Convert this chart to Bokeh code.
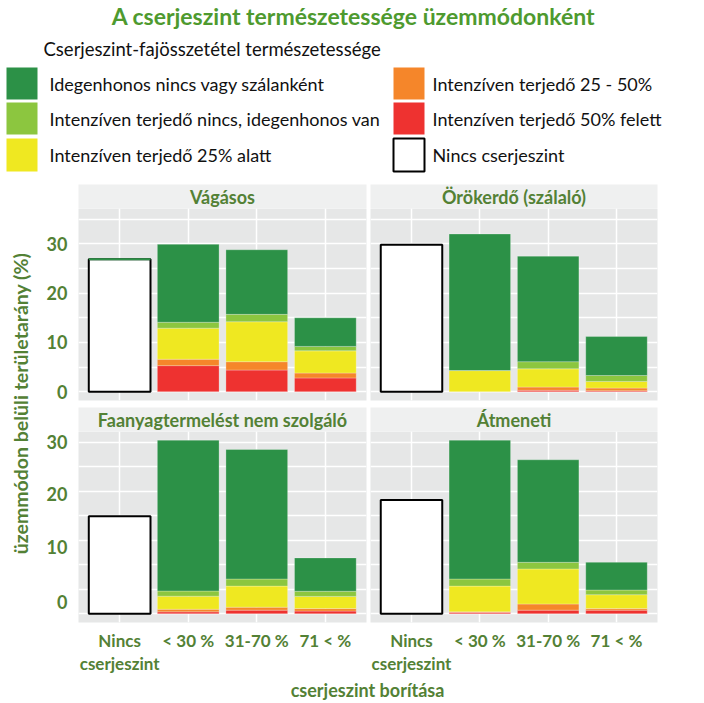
import math
from bokeh.plotting import figure
from bokeh.models import Range1d, FactorRange, FixedTicker, ColumnDataSource, Label, CustomJSTickFormatter
from bokeh.layouts import column, row
from bokeh.embed import file_html
from bokeh.resources import INLINE
from bokeh.core.properties import value

# ---------------- data ----------------
main_title = "A cserjeszint természetessége üzemmódonként"
categories = ["Nincs\ncserjeszint", "< 30 %", "31-70 %", "71 < %"]
cover_classes = categories[1:]
panel_titles = ["Vágásos", "Örökerdő (szálaló)", "Faanyagtermelést nem szolgáló", "Átmeneti"]
no_shrub = [26.9, 29.8, 19.9, 23.2]          # "Nincs cserjeszint" per panel (%)

# stacked classes for < 30 %, 31-70 %, 71 < %
vagasos_red = [5.3, 4.4, 2.8]
vagasos_orange = [1.3, 1.7, 1.0]
vagasos_yellow = [6.3, 8.1, 4.5]
vagasos_lightgreen = [1.2, 1.5, 0.9]
vagasos_darkgreen = [15.8, 13.1, 5.8]

orokerdo_red = [0.0, 0.3, 0.2]
orokerdo_orange = [0.0, 0.65, 0.55]
orokerdo_yellow = [4.3, 3.7, 1.35]
orokerdo_lightgreen = [0.0, 1.45, 1.2]
orokerdo_darkgreen = [27.7, 21.4, 7.9]

faanyag_red = [0.4, 0.75, 0.55]
faanyag_orange = [0.53, 0.6, 0.52]
faanyag_yellow = [2.67, 4.3, 2.48]
faanyag_lightgreen = [1.05, 1.45, 1.05]
faanyag_darkgreen = [30.75, 26.4, 6.8]

atmeneti_red = [0.3, 0.75, 0.75]
atmeneti_orange = [0.1, 1.25, 0.32]
atmeneti_yellow = [5.25, 7.15, 2.83]
atmeneti_lightgreen = [1.45, 1.35, 0.95]
atmeneti_darkgreen = [28.3, 20.9, 5.65]

y_tick_labels = ["0", "10", "20", "30"]
y_tick_pos_top = [0, 10, 20, 30]
y_tick_pos_bottom = [2.5, 13.6, 24.4, 35.1]   # where the reference prints the labels in the lower row

legend_title = "Cserjeszint-fajösszetétel természetessége"
legend_col1 = ["Idegenhonos nincs vagy szálanként",
               "Intenzíven terjedő nincs, idegenhonos van",
               "Intenzíven terjedő 25% alatt"]
legend_col2 = ["Intenzíven terjedő 25 - 50%",
               "Intenzíven terjedő 50% felett",
               "Nincs cserjeszint"]
y_title = "üzemmódon belüli területarány (%)"
x_title = "cserjeszint borítása"

panel_data = [
    [vagasos_red, vagasos_orange, vagasos_yellow, vagasos_lightgreen, vagasos_darkgreen],
    [orokerdo_red, orokerdo_orange, orokerdo_yellow, orokerdo_lightgreen, orokerdo_darkgreen],
    [faanyag_red, faanyag_orange, faanyag_yellow, faanyag_lightgreen, faanyag_darkgreen],
    [atmeneti_red, atmeneti_orange, atmeneti_yellow, atmeneti_lightgreen, atmeneti_darkgreen],
]

# ---------------- style ----------------
FONT = "Lato"
TXT_GREEN = "#538135"
TITLE_GREEN = "#4e9a2f"
STACK_COLORS = ["#ee3230", "#f5862a", "#efe821", "#8cc63f", "#2c9147"]
PANEL_BG = "#e6e7e7"
STRIP_BG = "#eff0f0"
W = 704
stack_keys = ["red", "orange", "yellow", "lightgreen", "darkgreen"]

totals = [sum(v) for d in panel_data for v in zip(*d)] + no_shrub
ymax = max(totals)
pad = 0.05 * ymax
ylo, yhi = -pad, ymax + pad


def make_panel(i, width, bl, br, bb, show_x, show_y, tick_pos):
    p = figure(width=width, height=192 + bb,
               x_range=FactorRange(factors=categories, range_padding=0.1, range_padding_units="absolute"),
               y_range=Range1d(ylo, yhi), output_backend="svg", toolbar_location=None,
               min_border_left=bl, min_border_right=br, min_border_top=0, min_border_bottom=bb,
               background_fill_color=PANEL_BG, border_fill_color="white", outline_line_color=None)
    d = panel_data[i]
    src = ColumnDataSource(dict(cat=cover_classes, **{k: v for k, v in zip(stack_keys, d)}))
    p.vbar_stack(stack_keys, x="cat", width=0.9, source=src, fill_color=STACK_COLORS,
                 line_color="white", line_alpha=0.25, line_width=1)
    nsrc = ColumnDataSource(dict(cat=[categories[0]], top=[no_shrub[i]]))
    p.vbar(x="cat", top="top", width=0.9, source=nsrc, fill_color="white",
           line_color="black", line_width=2)
    if i == 0:
        p.vbar(x="cat", bottom="top", top="top", width=0.9, source=nsrc, fill_alpha=0,
               line_color=STACK_COLORS[4], line_width=2)
    p.xgrid.grid_line_color = "white"
    p.xgrid.grid_line_width = 1.5
    p.ygrid.ticker = FixedTicker(ticks=list(range(0, int(yhi) + 1, 5)))
    p.ygrid.grid_line_color = "white"
    p.ygrid.grid_line_width = 1.5
    for ax in p.axis:
        ax.axis_line_color = None
        ax.major_tick_line_color = None
        ax.minor_tick_line_color = None
        ax.major_tick_out = 0
        ax.major_label_text_font = FONT
        ax.major_label_text_font_style = "bold"
        ax.major_label_text_color = TXT_GREEN
    p.yaxis.ticker = FixedTicker(ticks=tick_pos)
    p.yaxis.formatter = CustomJSTickFormatter(args=dict(labels=y_tick_labels),
                                              code="return labels[index];")
    p.yaxis.major_label_text_font_size = "18px"
    p.yaxis.major_label_standoff = 11
    p.xaxis.major_label_text_font_size = "17px"
    p.xaxis.major_label_standoff = 7
    p.xaxis.major_label_text_line_height = 1.12
    p.yaxis.visible = show_y
    p.xaxis.visible = show_x
    return p


def make_strip(title, width, bl, br, bt):
    s = figure(width=width, height=24 + bt, x_range=Range1d(0, 1), y_range=Range1d(0, 1),
               output_backend="svg", toolbar_location=None,
               min_border_left=bl, min_border_right=br, min_border_top=bt, min_border_bottom=0,
               background_fill_color=STRIP_BG, border_fill_color="white", outline_line_color=None,
               x_axis_location=None, y_axis_location=None)
    s.grid.visible = False
    s.add_layout(Label(x=0.5, y=0.5, text=title, text_align="center", text_baseline="middle",
                       text_font=FONT, text_font_style="bold", text_font_size="18px",
                       text_color=TXT_GREEN))
    return s


LW, RW = 330, 336
tl = column(make_strip(panel_titles[0], LW, 40, 2, 0), make_panel(0, LW, 40, 2, 3, False, True, y_tick_pos_top))
tr = column(make_strip(panel_titles[1], RW, 2, 47, 0), make_panel(1, RW, 2, 47, 3, False, False, y_tick_pos_top))
bl = column(make_strip(panel_titles[2], LW, 40, 2, 4), make_panel(2, LW, 40, 2, 54, True, True, y_tick_pos_bottom))
br = column(make_strip(panel_titles[3], RW, 2, 47, 4), make_panel(3, RW, 2, 47, 54, True, False, y_tick_pos_bottom))
grid = column(row(tl, tr), row(bl, br))


def blank(width, height, yr):
    f = figure(width=width, height=height, x_range=Range1d(0, width), y_range=yr,
               output_backend="svg", toolbar_location=None, min_border=0,
               x_axis_location=None, y_axis_location=None, outline_line_color=None,
               background_fill_color="white", border_fill_color="white")
    f.grid.visible = False
    return f


# header + legend (y measured downward)
LH = 184
lg = blank(W, LH, Range1d(LH, 0))
lg.text(x=[353], y=[15], text=[main_title], text_align="center", text_baseline="middle",
        text_font=value(FONT), text_font_style="bold", text_font_size=value("23px"),
        text_color=TITLE_GREEN)
lg.text(x=[43], y=[48], text=[legend_title], text_baseline="middle", text_font=value(FONT),
        text_font_size=value("18.5px"), text_color="#111111")
row_top = [67, 102, 138]
row_bot = [99, 134, 171]
row_mid = [(a + b) / 2 for a, b in zip(row_top, row_bot)]
lg.quad(left=6, right=37, top=row_top, bottom=row_bot,
        fill_color=STACK_COLORS[::-1][:3], line_color=None)
lg.quad(left=393, right=424, top=row_top, bottom=row_bot,
        fill_color=[STACK_COLORS[1], STACK_COLORS[0], "white"],
        line_color=[None, None, "black"], line_width=2)
lg.text(x=49, y=row_mid, text=legend_col1, text_baseline="middle", text_font=value(FONT),
        text_font_size=value("18px"), text_color="#111111")
lg.text(x=432, y=row_mid, text=legend_col2, text_baseline="middle", text_font=value(FONT),
        text_font_size=value("18px"), text_color="#111111")

# y axis title
YH = 219 + 274
yt = blank(38, YH, Range1d(0, YH))
yt.text(x=[20], y=[YH - 219], text=[y_title], angle=math.pi / 2, text_align="center",
        text_baseline="middle", text_font=value(FONT), text_font_style="bold",
        text_font_size=value("19.5px"), text_color=TXT_GREEN)

# x axis title
XH = 26
xt = blank(W, XH, Range1d(XH, 0))
xt.text(x=[367], y=[12], text=[x_title], text_align="center", text_baseline="middle",
        text_font=value(FONT), text_font_style="bold", text_font_size=value("18px"),
        text_color=TXT_GREEN)

p = column(lg, row(yt, grid), xt)

open("out.html", "w").write(file_html(p, INLINE))
